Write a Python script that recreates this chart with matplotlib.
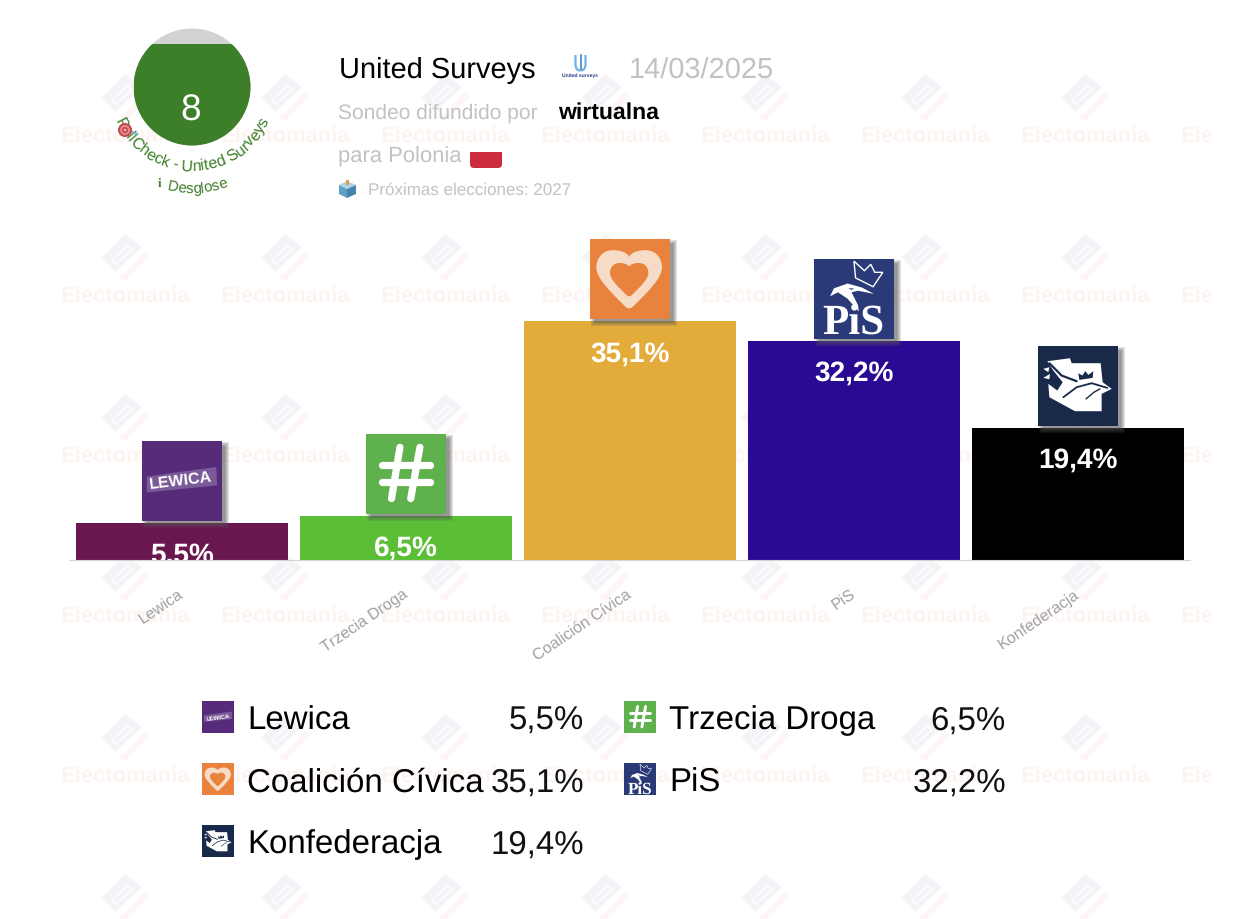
"""Poll card: United Surveys for Polonia, 14/03/2025."""

import math
import os

os.environ.setdefault("MPLBACKEND", "Agg")

import matplotlib.pyplot as plt  # noqa: E402
from matplotlib.font_manager import FontProperties  # noqa: E402
from matplotlib.patches import Circle, FancyBboxPatch, PathPatch, Polygon, Rectangle  # noqa: E402
from matplotlib.path import Path  # noqa: E402
from matplotlib.transforms import Affine2D  # noqa: E402

plt.rcParams["text.hinting"] = "no_hinting"
plt.rcParams["text.hinting_factor"] = 1

W, H = 1236, 920
FONT = "Liberation Sans"
GREY = "#c2c2c2"

parties = ["Lewica", "Trzecia Droga", "Coalición Cívica", "PiS", "Konfederacja"]
values = [5.5, 6.5, 35.1, 32.2, 19.4]
bar_colors = ["#6b174f", "#5abf36", "#e3ab3a", "#2b0a93", "#000000"]
logo_colors = ["#562c7a", "#5fb14e", "#e8823c", "#2a3a78", "#18294a"]

pollster = "United Surveys"
poll_date = "14/03/2025"
media = "wirtualna"
rating = "8"


def px(v):
    return v * 0.72


def fmt(v):
    return f"{v:.1f}".replace(".", ",") + "%"


def heart(cx, cy, w, h):
    # unit heart, shallow notch on top, point at the bottom
    right = [(0.1, -0.97), (0.35, -1.0), (0.5, -1.0), (0.8, -1.0), (1.0, -0.75), (1.0, -0.4),
             (1.0, -0.05), (0.6, 0.4), (0.1, 0.95), (0.05, 1.0), (-0.05, 1.0), (-0.1, 0.95)]
    left = [(-0.6, 0.4), (-1.0, -0.05), (-1.0, -0.4), (-1.0, -0.75), (-0.8, -1.0), (-0.5, -1.0),
            (-0.35, -1.0), (-0.1, -0.97), (0, -0.78)]
    verts = [(0, -0.78)] + right + left
    codes = [Path.MOVETO] + [Path.CURVE4] * (len(verts) - 1)
    return Path([(cx + x * w / 2, cy + y * h / 2) for x, y in verts], codes)


def draw_logo(ax, idx, x, y, s, shadow=False):
    tr = Affine2D().scale(s).translate(x, y) + ax.transData
    k = s / 80

    if shadow:
        for d in range(5):
            ax.add_patch(Rectangle((x + 5 - d, y + 5 - d), s + 2 * d - 2, s + 2 * d - 2,
                                   fc="#555555", ec="none", alpha=0.17, zorder=3))
    ax.add_patch(Rectangle((x, y), s, s, fc=logo_colors[idx], ec="none", zorder=4))

    def poly(pts, **kw):
        ax.add_patch(Polygon(pts, closed=kw.pop("closed", True), transform=tr, zorder=5, **kw))

    def line(xs, ys, color="white", lw=1.0, cap="round"):
        ax.plot(xs, ys, color=color, lw=lw * k, transform=tr, zorder=6, solid_capstyle=cap)

    if idx == 0:
        poly([(0.06, 0.45), (0.93, 0.33), (0.94, 0.56), (0.06, 0.65)], fc="#7a5a98", ec="none")
        ax.text(x + 0.49 * s, y + 0.49 * s, "LEWICA", color="white", fontsize=11.5 * k, fontweight="bold",
                family=FONT, rotation=7, ha="center", va="center", rotation_mode="anchor", zorder=6)
    elif idx == 1:
        line([0.425, 0.32], [0.17, 0.81], lw=5.2)
        line([0.675, 0.56], [0.17, 0.81], lw=5.2)
        line([0.2, 0.8], [0.39, 0.39], lw=5.2)
        line([0.2, 0.8], [0.6, 0.6], lw=5.2)
    elif idx == 2:
        ax.add_patch(PathPatch(heart(0.49, 0.505, 0.82, 0.73), fc="#f6dcc6", ec="none", transform=tr, zorder=5))
        ax.add_patch(PathPatch(heart(0.49, 0.51, 0.48, 0.42), fc=logo_colors[2], ec="none", transform=tr, zorder=6))
    elif idx == 3:
        ax.text(x + 0.49 * s, y + 0.93 * s, "PiS", color="white", fontsize=31 * k, fontweight="bold",
                family="Liberation Serif", ha="center", va="baseline", zorder=6)
        # crown
        poly([(0.5, 0.03), (0.63, 0.15), (0.71, 0.07), (0.76, 0.17), (0.86, 0.17), (0.74, 0.35), (0.52, 0.24)],
             fc="none", ec="white", lw=1.0 * k)
        # eagle head
        poly([(0.2, 0.47), (0.25, 0.37), (0.42, 0.31), (0.6, 0.36), (0.75, 0.44), (0.55, 0.4),
              (0.47, 0.42), (0.55, 0.58), (0.56, 0.66), (0.42, 0.5), (0.3, 0.42)], fc="white", ec="none")
        poly([(0.43, 0.37), (0.5, 0.37), (0.47, 0.39)], fc=logo_colors[3], ec="none")
    else:
        body = [(82, 62), (150, 53), (155, 68), (242, 68), (248, 125), (275, 145), (245, 160), (245, 212),
                (165, 212), (88, 170), (85, 130), (112, 150), (128, 125), (100, 90)]
        poly([((a - 54) / 240, (b - 16) / 240) for a, b in body], fc="white", ec="none")
        poly([((a - 54) / 240, (b - 16) / 240) for a, b in [(70, 85), (88, 80), (85, 95)]], fc="white", ec="none")
        poly([((a - 54) / 240, (b - 16) / 240) for a, b in [(70, 112), (90, 100), (88, 116)]], fc="white", ec="none")
        # wing and head lines
        line([(a - 54) / 240 for a in (88, 125, 170)], [(b - 16) / 240 for b in (68, 105, 122)],
             color=logo_colors[4], lw=1.6)
        line([(a - 54) / 240 for a in (130, 170, 215, 262)], [(b - 16) / 240 for b in (170, 140, 128, 142)],
             color=logo_colors[4], lw=1.3)
        line([(a - 54) / 240 for a in (198, 222, 240)], [(b - 16) / 240 for b in (175, 155, 145)],
             color=logo_colors[4], lw=1.0)
        poly([((a - 54) / 240, (b - 16) / 240) for a, b in
              [(178, 118), (175, 98), (187, 105), (196, 92), (205, 103), (220, 92), (218, 112)]],
             fc=logo_colors[4], ec="none")


def curved_text(ax, fig, s, cx, cy, r, mid_deg, size, color):
    # one rotated Text per character, laid out along the baseline circle
    renderer = fig.canvas.get_renderer()
    prop = FontProperties(family=FONT, size=size)
    widths = [renderer.get_text_width_height_descent(ch, prop, False)[0] for ch in s]
    total = sum(widths)
    pos = -total / 2
    for ch, w in zip(s, widths):
        th = math.radians(mid_deg) + (pos + w / 2) / r
        ax.text(cx + r * math.sin(th), cy + r * math.cos(th), ch, fontproperties=prop, color=color,
                rotation=math.degrees(th), rotation_mode="anchor", ha="center", va="baseline", zorder=6)
        pos += w


def draw_watermark(ax):
    clip = Rectangle((0, 0), 1213, H, transform=ax.transData)
    lav, pink = "#f5f2f8", "#fdf6f4"
    for cx in range(125, 1213, 160):
        for cy in range(100, H + 30, 160):
            ax.add_patch(Polygon([(cx, cy - 25), (cx + 17, cy - 12), (cx - 10, cy + 13), (cx - 23, cy - 2)],
                                 fc=lav, ec="none"))
            ax.add_patch(Polygon([(cx + 3, cy - 13), (cx + 7, cy - 9), (cx - 10, cy + 5), (cx - 13, cy)],
                                 fc=lav, ec="white", lw=1.0))
            ax.add_patch(Polygon([(cx - 7, cy + 17), (cx, cy + 23), (cx + 25, cy - 3), (cx + 20, cy - 9), (cx, cy + 15)],
                                 fc=pink, ec="none"))
    for lx in range(61, 1213, 160):
        for ly in range(136, H, 160):
            t = ax.text(lx, ly, "Electomanía", color="#fdf4f1", fontsize=px(22), fontweight="bold",
                        family=FONT, ha="left", va="center")
            t.set_clip_on(True)
            t.set_clip_path(clip)


def main():
    fig = plt.figure(figsize=(W / 100, H / 100), dpi=100, facecolor="white")

    bg = fig.add_axes([0, 0, 1, 1], zorder=0)
    bg.set_xlim(0, W)
    bg.set_ylim(H, 0)
    bg.axis("off")
    draw_watermark(bg)

    # bars: baseline at y=561, 6.81 px per point
    ax = fig.add_axes([69 / W, (H - 561) / H, (1190 - 69) / W, 330 / H], zorder=1)
    ax.patch.set_alpha(0)
    xs = list(range(len(parties)))
    ax.bar(xs, values, width=212 / 224, color=bar_colors)
    ax.set_xlim(-0.504, 4.5)
    ax.set_ylim(0, 330 / 6.81)
    for s in ("top", "left", "right"):
        ax.spines[s].set_visible(False)
    ax.spines["bottom"].set_color("#d4d4d4")
    ax.set_yticks([])
    ax.set_xticks(xs)
    ax.set_xticklabels(parties, rotation=34, ha="right", va="center", rotation_mode="anchor",
                       color="#a0a0a0", fontsize=px(16), family=FONT)
    ax.tick_params(axis="x", length=0, pad=px(32))
    for i, v in enumerate(values):
        ax.annotate(fmt(v), (i, v), xytext=(0, -px(32)), textcoords="offset points", color="white",
                    fontsize=px(27.5), fontweight="bold", family=FONT, ha="center", va="center", clip_on=True)

    # everything else in image pixels
    top = fig.add_axes([0, 0, 1, 1], zorder=2)
    top.set_xlim(0, W)
    top.set_ylim(H, 0)
    top.axis("off")
    top.patch.set_alpha(0)

    for i, v in enumerate(values):
        bx, by = ax.transData.transform((i, v))
        draw_logo(top, i, bx - 40, H - by - 82, 80, shadow=True)

    # legend
    for i, (name, v) in enumerate(zip(parties, values)):
        col, row = i % 2, i // 2
        ox = 202 + 422 * col
        base = 729.5 + 62 * row
        draw_logo(top, i, ox, 702 + 62.1 * row, 32)
        top.text(ox + 45, base, name, fontsize=px(32.6), family=FONT, color="black", ha="left", va="baseline")
        top.text(ox + 382, base, fmt(v), fontsize=px(32.6), family=FONT, color="#111111",
                 ha="right", va="baseline")

    # rating gauge
    cx, cy, r = 192, 88, 58.5
    disc = Circle((cx, cy), r, fc="#d2d2d2", ec="none", zorder=3)
    top.add_patch(disc)
    fill = Rectangle((cx - r, 45), 2 * r, 110, fc="#3d7f28", ec="none", zorder=4)
    top.add_patch(fill)
    fill.set_clip_path(disc)
    top.text(191, 111.5, rating, color="white", fontsize=px(37), family=FONT, ha="center", va="center", zorder=5)
    curved_text(top, fig, "PollCheck - United Surveys", cx, cy - 1, 84, 0, px(15.5), "#3d7f28")
    curved_text(top, fig, "Desglose", cx, cy - 2, 107, 3, px(15), "#3d7f28")
    top.text(160, 184, "i", color="#3d7f28", fontsize=px(13), fontweight="bold", family="Liberation Serif",
             ha="center", va="center", zorder=6)
    # dart target on the ring
    for rad, c in [(7, "#c4464f"), (5, "#e58b8b"), (3, "#c4464f"), (1.3, "#f0c0c0")]:
        top.add_patch(Circle((125, 131), rad, fc=c, ec="none", zorder=7))
    top.plot([130, 137], [132, 135], color="#6fb8cc", lw=1.6, zorder=6)

    # header
    top.text(339, 77.5, pollster, fontsize=px(29.2), family=FONT, color="black", va="baseline")
    top.text(629, 77.5, poll_date, fontsize=px(29.2), family=FONT, color=GREY, va="baseline")
    top.text(338, 119, "Sondeo difundido por", fontsize=px(21.2), family=FONT, color=GREY, va="baseline")
    top.text(558, 119, media, fontsize=px(23), family=FONT, fontweight="bold", color="black", va="baseline")
    top.text(338, 162, "para Polonia", fontsize=px(21.9), family=FONT, color=GREY, va="baseline")
    top.text(368, 195, "Próximas elecciones: 2027", fontsize=px(16.5), family=FONT, color=GREY, va="baseline")

    # pollster logo
    u_codes = [Path.MOVETO, Path.LINETO, Path.CURVE3, Path.CURVE3, Path.LINETO]
    top.add_patch(PathPatch(Path([(575.5, 56), (575.5, 65), (575.5, 71.5), (580.5, 71.5), (580.5, 71.5)], u_codes),
                            fc="none", ec="#6db2e2", lw=1.6))
    top.add_patch(PathPatch(Path([(585.5, 56), (585.5, 65), (585.5, 71.5), (580.5, 71.5), (580.5, 71.5)], u_codes),
                            fc="none", ec="#6db2e2", lw=1.6))
    top.plot([580.5, 580.5], [56, 70], color="#3f86c8", lw=1.2)
    top.text(579.5, 75.5, "United surveys", fontsize=px(5.2), fontweight="bold", family=FONT, color="#1d3a8a",
             ha="center", va="center")

    # flag, white half is invisible on the page
    flag = FancyBboxPatch((470, 145), 32, 24, boxstyle="round,pad=0,rounding_size=4", fc="#cb2d3e", ec="none")
    top.add_patch(flag)
    top.add_patch(Rectangle((469, 144), 34, 8.5, fc="white", ec="none"))

    # ballot box
    top.add_patch(Polygon([(339, 186), (347, 182), (356, 186), (347, 190)], fc="#a9d3e6", ec="none"))
    top.add_patch(Polygon([(339, 186), (347, 190), (347, 199), (339, 195)], fc="#5f9fc4", ec="none"))
    top.add_patch(Polygon([(347, 190), (356, 186), (356, 195), (347, 199)], fc="#4686ad", ec="none"))
    top.add_patch(Rectangle((346, 181), 3, 5, fc="#e79a45", ec="none"))

    fig.savefig("out.png", dpi=100, facecolor="white")


if __name__ == "__main__":
    main()
